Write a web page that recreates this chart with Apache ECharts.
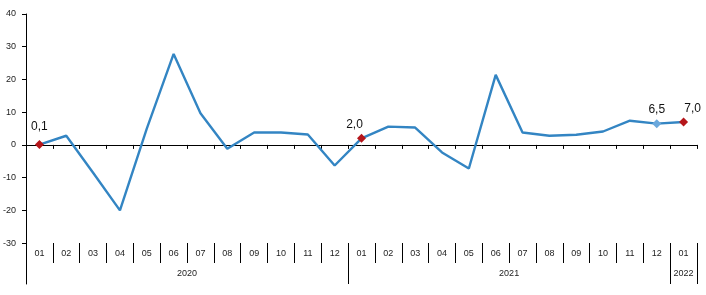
<!DOCTYPE html>
<html>
<head>
<meta charset="utf-8">
<script src="https://cdn.jsdelivr.net/npm/echarts@6/dist/echarts.min.js"></script>
<style>
html,body{margin:0;padding:0;background:#fff;}
#chart{width:706px;height:295px;}
</style>
</head>
<body>
<div id="chart"></div>
<script>
// ---- data ----
const months = ['01','02','03','04','05','06','07','08','09','10','11','12',
                '01','02','03','04','05','06','07','08','09','10','11','12',
                '01'];
const years = ['2020','2021','2022'];
const values = [0.1, 2.8, -8.5, -20.0, 5.0, 27.8, 9.7, -1.2, 3.8, 3.8, 3.2, -6.3,
                2.0, 5.6, 5.3, -2.3, -7.2, 21.4, 3.8, 2.8, 3.1, 4.1, 7.4, 6.5,
                7.0];
const yTicks = [-30, -20, -10, 0, 10, 20, 30, 40];
const labelledIdx = [0, 12, 23, 24];
const lightIdx = [23];

// ---- derived year groups ----
const yearStarts = [];
months.forEach((m, i) => { if (m === '01') yearStarts.push(i); });
const yearEnds = yearStarts.slice(1).concat([months.length]);
const yearBounds = yearStarts.concat([months.length]);
const yearCenters = yearStarts.map((s, k) => (s + yearEnds[k]) / 2);

const fmt = v => v.toFixed(1).replace('.', ',');
const labelOffsets = {0: [0, -4], 12: [-7, 0], 23: [0, 0], 24: [9, 0]};

const seriesData = values.map((v, i) => {
  if (labelledIdx.indexOf(i) < 0) return v;
  const light = lightIdx.indexOf(i) >= 0;
  return {
    value: v,
    symbol: 'diamond',
    symbolSize: 9,
    itemStyle: {color: light ? '#6aa8dc' : '#b5161b'},
    label: {
      show: true, position: 'top', distance: 3,
      offset: labelOffsets[i] || [0, 0],
      formatter: fmt(v),
      fontFamily: 'Liberation Sans, Arial, sans-serif',
      fontSize: 12, color: '#111'
    }
  };
});

const font = 'Liberation Sans, Arial, sans-serif';
const chart = echarts.init(document.getElementById('chart'));
chart.setOption({
  animation: false,
  backgroundColor: '#fff',
  grid: {left: 25, right: 9, top: 14, bottom: 11, containLabel: false},
  xAxis: [
    {
      type: 'category', data: months, boundaryGap: true,
      axisLine: {onZero: true, lineStyle: {color: '#000', width: 1}},
      axisTick: {show: true, length: 4, lineStyle: {color: '#000'}},
      axisLabel: {show: false},
      splitLine: {show: false}
    },
    {
      type: 'category', data: months, boundaryGap: true,
      position: 'bottom', offset: -41,
      axisLine: {show: false, onZero: false},
      axisTick: {show: true, length: 20, interval: 0, lineStyle: {color: '#000'}},
      axisLabel: {show: true, interval: 0, margin: 6, fontSize: 9, color: '#222', fontFamily: font},
      splitLine: {show: false}
    },
    {
      type: 'value', min: 0, max: months.length,
      position: 'bottom', offset: -41,
      axisLine: {show: false, onZero: false},
      axisTick: {show: true, length: 41, customValues: yearBounds, lineStyle: {color: '#000'}},
      axisLabel: {
        show: true, margin: 26, fontSize: 9, color: '#222', fontFamily: font,
        customValues: yearCenters,
        formatter: v => {
          const k = yearCenters.findIndex(c => Math.abs(c - v) < 1e-6);
          return k >= 0 ? years[k] : '';
        }
      },
      splitLine: {show: false}
    }
  ],
  yAxis: {
    type: 'value', min: -42.5, max: 40,
    axisLine: {show: true, onZero: false, lineStyle: {color: '#000', width: 1}},
    axisTick: {show: true, length: 4, customValues: yTicks, lineStyle: {color: '#000'}},
    axisLabel: {
      show: true, margin: 10, fontSize: 9, color: '#222', fontFamily: font,
      customValues: yTicks, verticalAlign: 'middle', padding: [0, 0, 9, 0]
    },
    splitLine: {show: false}
  },
  series: [{
    type: 'line', xAxisIndex: 0, yAxisIndex: 0,
    data: seriesData,
    showSymbol: true, symbol: 'none',
    lineStyle: {color: '#3385c3', width: 2.4},
    itemStyle: {color: '#3385c3'},
    z: 3
  }]
});
</script>
</body>
</html>
